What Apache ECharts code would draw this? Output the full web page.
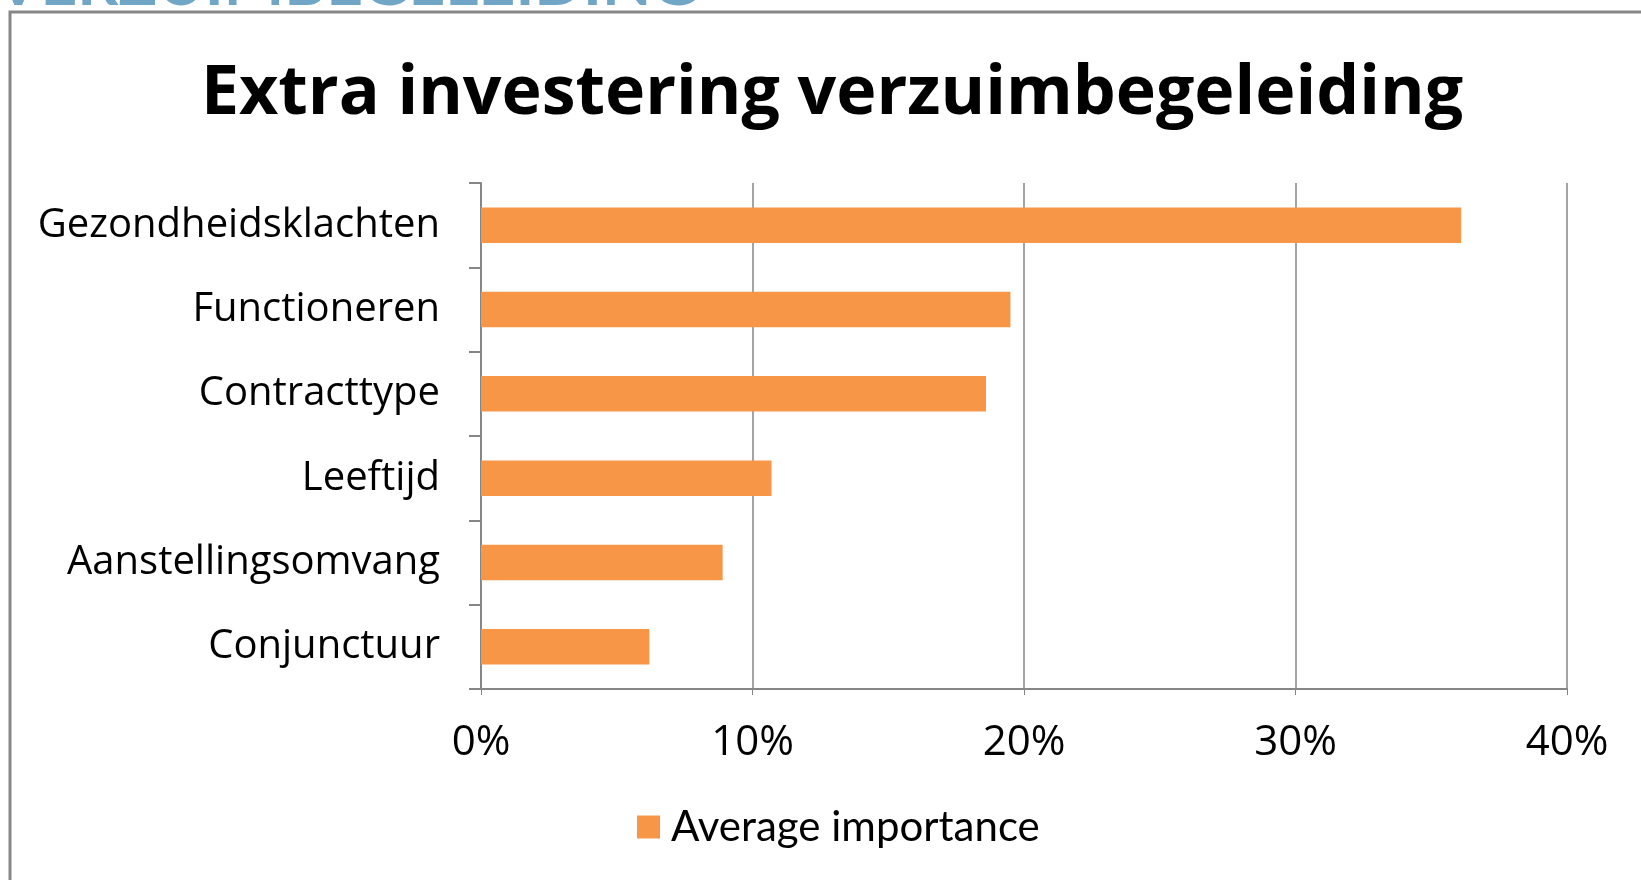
<!DOCTYPE html>
<html>
<head>
<meta charset="utf-8">
<script src="https://cdn.jsdelivr.net/npm/echarts@6/dist/echarts.min.js"></script>
<style>
html,body{margin:0;padding:0;background:#fff;}
#chart{width:1641px;height:880px;}
</style>
</head>
<body>
<div id="chart"></div>
<script>
var categories = ['Gezondheidsklachten','Functioneren','Contracttype','Leeftijd','Aanstellingsomvang','Conjunctuur'];
var values = [36.1, 19.5, 18.6, 10.7, 8.9, 6.2];
var seriesName = 'Average importance';
var titleText = 'Extra investering verzuimbegeleiding';
var headerText = 'VERZUIMBEGELEIDING';

var chart = echarts.init(document.getElementById('chart'));
chart.setOption({
  animation: false,
  backgroundColor: '#ffffff',
  graphic: [
    {type:'text', left: -4, top: -48, style:{text: headerText, font:'bold 64px Lato', fill:'#72a6c7'}},
    {type:'rect', shape:{x:10, y:12, width:1700, height:1000}, style:{fill:'none', stroke:'#878787', lineWidth:3}},
    {type:'text', x: 832, y: 95, style:{text: titleText, font:'bold 68px "Open Sans"', fill:'#000', align:'center', verticalAlign:'middle'}}
  ],
  grid: {left: 481, right: 74, top: 183, bottom: 191, containLabel: false},
  legend: {
    data: [seriesName], left: 632, top: 801, itemWidth: 23, itemHeight: 23, icon: 'rect',
    textStyle: {fontFamily: 'Lato', fontSize: 42, color: '#000', padding:[0,0,0,6]}
  },
  xAxis: {
    type: 'value', min: 0, max: 40, interval: 10,
    axisLine: {show: true, lineStyle: {color: '#868686', width: 2}},
    axisTick: {show: true, length: 6, lineStyle: {color: '#868686'}},
    splitLine: {show: true, lineStyle: {color: '#868686', width: 1.5}},
    axisLabel: {formatter: '{value}%', fontFamily: 'Open Sans', fontSize: 42, color: '#000', margin: 33}
  },
  yAxis: {
    type: 'category', data: categories, inverse: true,
    axisLine: {show: true, lineStyle: {color: '#868686', width: 2}},
    axisTick: {show: true, length: 12, alignWithLabel: false, lineStyle: {color: '#868686', width: 2}},
    axisLabel: {fontFamily: 'Open Sans', fontSize: 40, color: '#000', margin: 41}
  },
  series: [{
    name: seriesName, type: 'bar', data: values, barCategoryGap: '58%',
    itemStyle: {color: '#F79646'}
  }]
});
</script>
</body>
</html>
